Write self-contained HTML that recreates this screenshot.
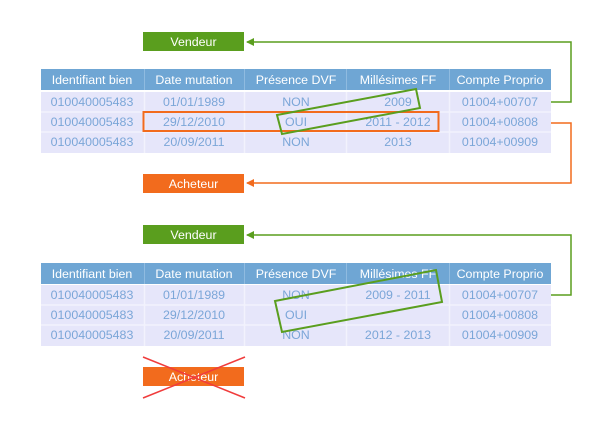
<!DOCTYPE html>
<html><head><meta charset="utf-8"><style>
body{margin:0;background:#fff;width:605px;height:428px;overflow:hidden}
text{font-family:"Liberation Sans",sans-serif;font-size:12.4px}
</style></head><body>
<svg width="605" height="428" xmlns="http://www.w3.org/2000/svg">
<defs>
<marker id="ag" markerWidth="8" markerHeight="8" refX="7" refY="4" orient="auto" markerUnits="userSpaceOnUse"><path d="M0,0 L8,4 L0,8 z" fill="#5a9e1e"/></marker>
<marker id="ao" markerWidth="8" markerHeight="8" refX="7" refY="4" orient="auto" markerUnits="userSpaceOnUse"><path d="M0,0 L8,4 L0,8 z" fill="#f26b1d"/></marker>
<g id="hdr">
<rect x="41" y="0" width="510" height="21" fill="#6fa6d4"/>
<g stroke="#8fbbe0" stroke-width="1"><line x1="144.5" y1="0" x2="144.5" y2="21"/><line x1="244.5" y1="0" x2="244.5" y2="21"/><line x1="346.5" y1="0" x2="346.5" y2="21"/><line x1="449.5" y1="0" x2="449.5" y2="21"/></g>
<g fill="#fff" text-anchor="middle"><text x="92" y="15">Identifiant bien</text><text x="194" y="15">Date mutation</text><text x="296" y="15">Présence DVF</text><text x="398" y="15">Millésimes FF</text><text x="500" y="15">Compte Proprio</text></g>
</g>
<g id="body">
<rect x="41" y="0" width="510" height="61" fill="#e6e6fa"/>
<g stroke="#f2f2fd" stroke-width="1.5"><line x1="41" y1="20" x2="551" y2="20"/><line x1="41" y1="40" x2="551" y2="40"/><line x1="144.5" y1="0" x2="144.5" y2="61"/><line x1="244.5" y1="0" x2="244.5" y2="61"/><line x1="346.5" y1="0" x2="346.5" y2="61"/><line x1="449.5" y1="0" x2="449.5" y2="61"/></g>
<g fill="#7ba6d8" text-anchor="middle">
<text x="92" y="14">010040005483</text><text x="92" y="34">010040005483</text><text x="92" y="54">010040005483</text>
<text x="194" y="14">01/01/1989</text><text x="194" y="34">29/12/2010</text><text x="194" y="54">20/09/2011</text>
<text x="296" y="14">NON</text><text x="296" y="34">OUI</text><text x="296" y="54">NON</text>
<text x="500" y="14">01004+00707</text><text x="500" y="34">01004+00808</text><text x="500" y="54">01004+00909</text>
</g>
</g>
</defs>

<rect x="143" y="32" width="101" height="19" fill="#5a9e1e"/>
<text x="193.5" y="46" fill="#fff" text-anchor="middle">Vendeur</text>
<use href="#hdr" y="69"/>
<use href="#body" y="92"/>
<g fill="#7ba6d8" text-anchor="middle"><text x="398" y="106">2009</text><text x="398" y="126">2011 - 2012</text><text x="398" y="146">2013</text></g>
<rect x="143.5" y="112" width="295" height="19" fill="none" stroke="#f26b1d" stroke-width="2"/>
<polygon points="277,115 416,89 420,108 282,134" fill="none" stroke="#5a9e1e" stroke-width="2"/>
<polyline points="551,102 571,102 571,42 247,42" fill="none" stroke="#5a9e1e" stroke-width="1.5" marker-end="url(#ag)"/>
<polyline points="551,123 571,123 571,183 247,183" fill="none" stroke="#f26b1d" stroke-width="1.5" marker-end="url(#ao)"/>
<rect x="143" y="174" width="101" height="19" fill="#f26b1d"/>
<text x="193.5" y="188" fill="#fff" text-anchor="middle">Acheteur</text>

<rect x="143" y="225" width="101" height="19" fill="#5a9e1e"/>
<text x="193.5" y="239" fill="#fff" text-anchor="middle">Vendeur</text>
<use href="#hdr" y="263"/>
<use href="#body" y="285"/>
<g fill="#7ba6d8" text-anchor="middle"><text x="398" y="299">2009 - 2011</text><text x="398" y="339">2012 - 2013</text></g>
<polygon points="275,301 436,270 442,302 282,332" fill="none" stroke="#5a9e1e" stroke-width="2"/>
<polyline points="551,295 571,295 571,235 247,235" fill="none" stroke="#5a9e1e" stroke-width="1.5" marker-end="url(#ag)"/>
<rect x="143" y="367" width="101" height="19" fill="#f26b1d"/>
<text x="193.5" y="381" fill="#fff" text-anchor="middle">Acheteur</text>
<g stroke="#f03c3c" stroke-width="1.5"><line x1="143" y1="357" x2="245" y2="398"/><line x1="245" y1="357" x2="143" y2="398"/></g>
</svg>
</body></html>
